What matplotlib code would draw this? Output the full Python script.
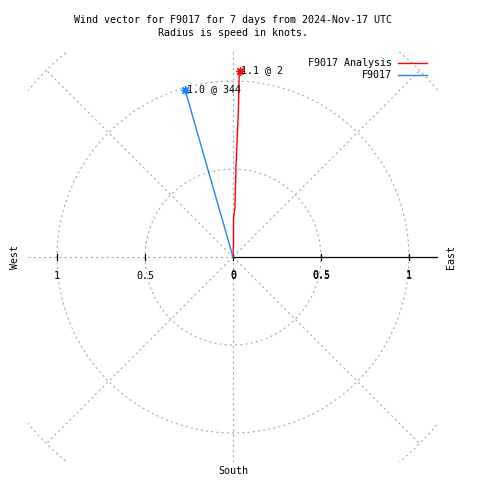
import numpy as np
import matplotlib

matplotlib.use("Agg")
import matplotlib.pyplot as plt
from matplotlib.transforms import offset_copy

# wind vectors, speed in knots, direction in compass degrees
station = "F9017"
analysis_speed = 1.06
analysis_dir = 2
obs_speed = 0.99
obs_dir = 344

# analysis track as (east, north) components
analysis_x = [0.0, 0.003, 0.003, 0.011, 0.017, 0.024, 0.030, 0.036]
analysis_y = [0.0, 0.08, 0.22, 0.28, 0.51, 0.68, 0.82, 1.06]

ring_radii = [0.5, 1.0, 1.5]
spoke_angles = [0, 45, 90, 135, 180, 225, 270, 315]
tick_values = [0.5, 1.0]

FONT = "DejaVu Sans Mono"
FS = 7.2
GRID = "#a0a0a0"
RED = "#ff0000"
BLUE = "#1a84ff"
DOTS = (0, (2, 3))
LIM = 1.165


def uv(speed, direction):
    rad = np.deg2rad(direction)
    return speed * np.sin(rad), speed * np.cos(rad)


fig = plt.figure(figsize=(4.8, 4.8), dpi=100)
ax = fig.add_axes([28 / 480, 18 / 480, 410 / 480, 410 / 480])
ax.set_xlim(-LIM, LIM)
ax.set_ylim(-LIM, LIM)
ax.axis("off")

# polar grid
theta = np.linspace(0, 2 * np.pi, 721)
for r in ring_radii:
    ax.plot(r * np.cos(theta), r * np.sin(theta), color=GRID, lw=0.75, ls=DOTS)
for a in spoke_angles:
    rad = np.deg2rad(a)
    ax.plot([0, 1.5 * np.cos(rad)], [0, 1.5 * np.sin(rad)], color=GRID, lw=0.75, ls=DOTS)

# radial axis with ticks
ax.plot([0, LIM], [0, 0], color="black", lw=0.9)
for v in [-1.0, -0.5, 0.0, 0.5, 1.0]:
    ax.plot([v, v], [-0.018, 0.018], color="black", lw=0.9)

txt = dict(fontsize=FS, family=FONT, ha="center", va="center")
for v in tick_values:
    ax.text(-v, -0.11, f"{v:g}", **txt)
for v in [0.0] + tick_values:
    ax.text(v, -0.11, f"{v:g}", **txt)
    shifted = offset_copy(ax.transData, fig=fig, x=0, y=1.5, units="dots")
    ax.text(v, -0.11, f"{v:g}", transform=shifted, **txt)

# vectors
ax.plot(analysis_x, analysis_y, color=RED, lw=1.0)
ax.plot(*uv(analysis_speed, analysis_dir), marker=(8, 2, 0), ms=6,
        mew=0.9, color=RED)
ox, oy = uv(obs_speed, obs_dir)
ax.plot([0, ox], [0, oy], color=BLUE, lw=1.0)
ax.plot(ox, oy, marker=(8, 2, 0), ms=6, mew=0.9, color=BLUE)

ax_, ay_ = uv(analysis_speed, analysis_dir)
ax.text(ax_ + 0.01, ay_, f"{analysis_speed:.1f} @ {analysis_dir}",
        fontsize=FS, family=FONT, ha="left", va="center")
ax.text(ox + 0.01, oy, f"{obs_speed:.1f} @ {obs_dir}",
        fontsize=FS, family=FONT, ha="left", va="center")

# compass labels and title
fig.text(15 / 480, 1 - 257 / 480, "West", rotation=90, fontsize=FS, family=FONT,
         ha="center", va="center")
fig.text(451 / 480, 1 - 257 / 480, "East", rotation=90, fontsize=FS, family=FONT,
         ha="center", va="center")
fig.text(233 / 480, 1 - 471 / 480, "South", fontsize=FS, family=FONT,
         ha="center", va="center")
fig.text(233 / 480, 1 - 20 / 480,
         f"Wind vector for {station} for 7 days from 2024-Nov-17 UTC",
         fontsize=FS, family=FONT, ha="center", va="center")
fig.text(233 / 480, 1 - 33 / 480, "Radius is speed in knots.",
         fontsize=FS, family=FONT, ha="center", va="center")

# legend
for label, color, y in [(f"{station} Analysis", RED, 63), (station, BLUE, 75)]:
    fig.text(392 / 480, 1 - y / 480, label, fontsize=FS, family=FONT,
             ha="right", va="center")
    fig.add_artist(plt.Line2D([398 / 480, 427 / 480], [1 - y / 480, 1 - y / 480],
                              color=color, lw=1.0, transform=fig.transFigure))

fig.savefig("out.png", dpi=100)
